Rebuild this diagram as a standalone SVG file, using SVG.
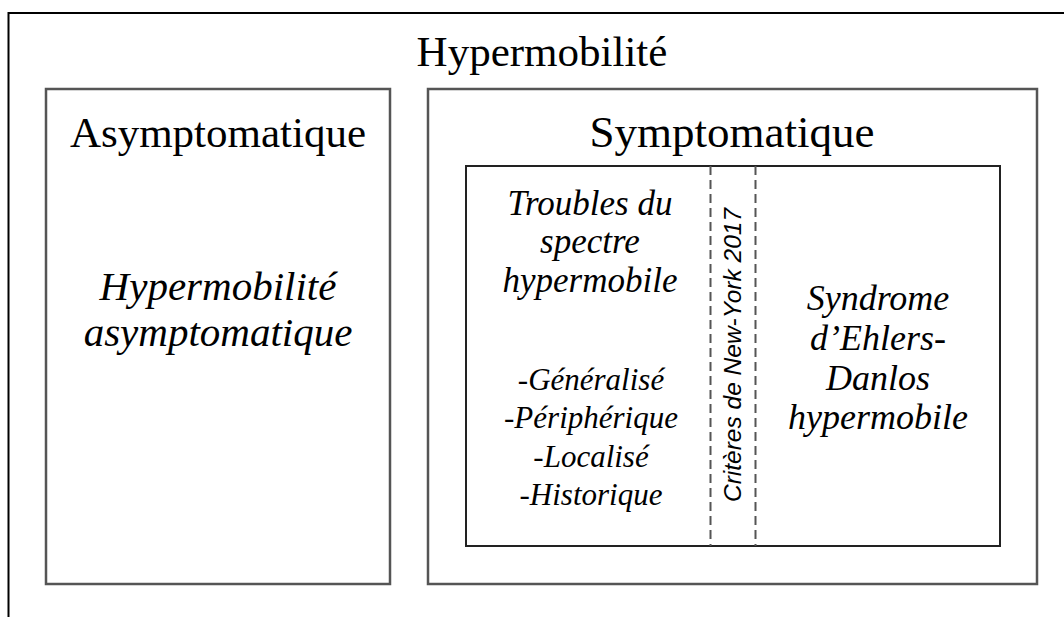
<svg xmlns="http://www.w3.org/2000/svg" width="1064" height="617" viewBox="0 0 1064 617">
<style>
.frame{fill:none;stroke:#000;stroke-width:2}
.box{fill:#fff;stroke:#555;stroke-width:2.5}
.inner{fill:#fff;stroke:#222;stroke-width:2}
.dash{fill:none;stroke:#555;stroke-width:2;stroke-dasharray:9 5}
.t{font-family:"Liberation Serif","Times New Roman",serif;fill:#000;text-anchor:middle}
.h{font-size:43px}
.i{font-style:italic}
.c{font-family:"Liberation Sans",Arial,sans-serif;font-style:italic;font-size:24.5px;fill:#000;text-anchor:middle}
</style>
<rect width="1064" height="617" fill="#fff"/>
<g id="frame">
<path class="frame" d="M8.5,617 V13 H1064"/>
<text class="t h" x="542" y="66">Hypermobilité</text>
</g>
<g id="asymptomatique">
<rect class="box" x="46" y="89" width="344" height="495"/>
<text class="t h" x="218" y="147">Asymptomatique</text>
<text class="t i" font-size="41"><tspan x="218" y="300">Hypermobilité</tspan><tspan x="218" y="346">asymptomatique</tspan></text>
</g>
<g id="symptomatique">
<rect class="box" x="428" y="89" width="609" height="495"/>
<text class="t" font-size="45" x="732" y="147">Symptomatique</text>
</g>
<g id="inner">
<rect class="inner" x="466" y="166" width="534" height="380"/>
</g>
<g id="connectors">
<line class="dash" x1="710.5" y1="166" x2="710.5" y2="546"/>
<line class="dash" x1="755.5" y1="166" x2="755.5" y2="546"/>
</g>
<g id="troubles">
<text class="t i" font-size="35"><tspan x="590" y="215">Troubles du</tspan><tspan x="590" y="253">spectre</tspan><tspan x="590" y="292">hypermobile</tspan></text>
<text class="t i" font-size="31"><tspan x="591" y="390">-Généralisé</tspan><tspan x="591" y="428">-Périphérique</tspan><tspan x="591" y="467">-Localisé</tspan><tspan x="591" y="505">-Historique</tspan></text>
</g>
<g id="criteres">
<text class="c" transform="translate(741,355) rotate(-90)">Critères de New-York 2017</text>
</g>
<g id="sed">
<text class="t i" font-size="36"><tspan x="878" y="310">Syndrome</tspan><tspan x="878" y="350">d’Ehlers-</tspan><tspan x="878" y="390">Danlos</tspan><tspan x="878" y="429">hypermobile</tspan></text>
</g>
</svg>
